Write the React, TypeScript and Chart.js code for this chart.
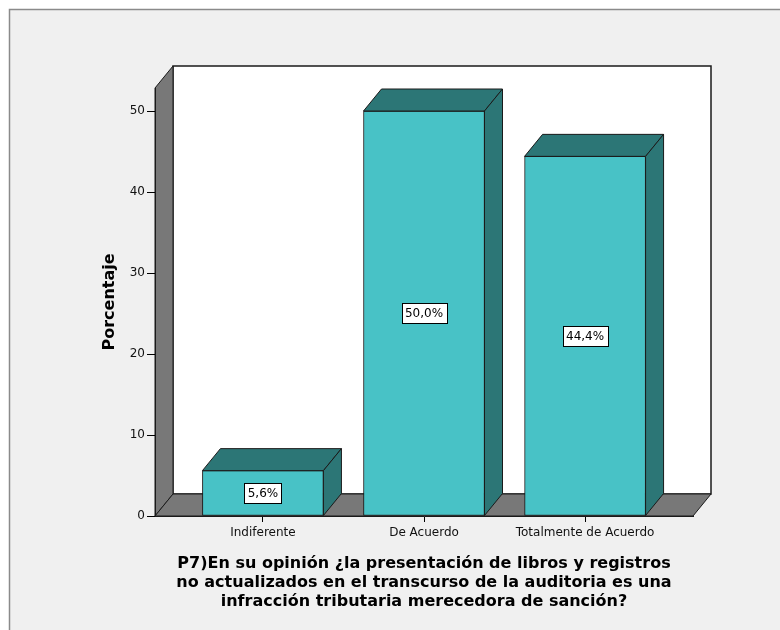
import React, { useEffect, useRef } from "react";
import { Chart, registerables } from "chart.js";

Chart.register(...registerables);

// Response categories and their share of answers (%)
const categories = ["Indiferente", "De Acuerdo", "Totalmente de Acuerdo"];
const percentages = [5.6, 50.0, 44.4];
const yTickValues = [0, 10, 20, 30, 40, 50];
const yAxisTitle = "Porcentaje";
const xAxisTitleLines = [
  "P7)En su opinión ¿la presentación de libros y registros",
  "no actualizados en el transcurso de la auditoria es una",
  "infracción tributaria merecedora de sanción?",
];

const FONT = "'DejaVu Sans', Verdana, sans-serif";
const DEPTH_X = 18;
const DEPTH_Y = 22;
const WALL = "#787878";
const BAR_FRONT = "#48c2c6";
const BAR_SHADE = "#2c7676";
const EDGE = "#1a1a1a";

type Pt = [number, number];

function polygon(ctx: CanvasRenderingContext2D, pts: Pt[], fill: string, stroke: string) {
  ctx.beginPath();
  ctx.moveTo(pts[0][0], pts[0][1]);
  for (let i = 1; i < pts.length; i++) ctx.lineTo(pts[i][0], pts[i][1]);
  ctx.closePath();
  ctx.fillStyle = fill;
  ctx.fill();
  ctx.strokeStyle = stroke;
  ctx.lineWidth = 1;
  ctx.stroke();
}

const formatPct = (v: number) => v.toFixed(1).replace(".", ",") + "%";

// Panel background, back wall, side wall and floor of the 3D box
const boxPlugin = {
  id: "box3d",
  beforeDraw(chart: any) {
    const { ctx, width, height } = chart;
    const { left, right, top, bottom } = chart.chartArea;
    ctx.save();
    ctx.fillStyle = "#ffffff";
    ctx.fillRect(0, 0, width, height);
    ctx.fillStyle = "#f0f0f0";
    ctx.fillRect(9, 9, width - 9, height - 9);
    ctx.strokeStyle = "#8a8a8a";
    ctx.lineWidth = 1.5;
    ctx.beginPath();
    ctx.moveTo(9.5, height);
    ctx.lineTo(9.5, 9.5);
    ctx.lineTo(width, 9.5);
    ctx.stroke();

    // back wall
    ctx.fillStyle = "#ffffff";
    ctx.fillRect(left + DEPTH_X, top - DEPTH_Y, right - left, bottom - top);
    ctx.strokeStyle = EDGE;
    ctx.lineWidth = 1.5;
    ctx.strokeRect(left + DEPTH_X, top - DEPTH_Y, right - left, bottom - top);

    // left wall
    polygon(
      ctx,
      [
        [left, bottom],
        [left, top],
        [left + DEPTH_X, top - DEPTH_Y],
        [left + DEPTH_X, bottom - DEPTH_Y],
      ],
      WALL,
      EDGE
    );
    // floor
    polygon(
      ctx,
      [
        [left, bottom],
        [right, bottom],
        [right + DEPTH_X, bottom - DEPTH_Y],
        [left + DEPTH_X, bottom - DEPTH_Y],
      ],
      WALL,
      EDGE
    );
    ctx.restore();
  },
  afterDatasetsDraw(chart: any) {
    const { ctx } = chart;
    const meta = chart.getDatasetMeta(0);
    ctx.save();
    meta.data.forEach((bar: any, i: number) => {
      const { x, y, base, width } = bar.getProps(["x", "y", "base", "width"], true);
      const l = x - width / 2;
      const r = x + width / 2;
      // top face
      polygon(
        ctx,
        [
          [l, y],
          [r, y],
          [r + DEPTH_X, y - DEPTH_Y],
          [l + DEPTH_X, y - DEPTH_Y],
        ],
        BAR_SHADE,
        EDGE
      );
      // side face
      polygon(
        ctx,
        [
          [r, y],
          [r + DEPTH_X, y - DEPTH_Y],
          [r + DEPTH_X, base - DEPTH_Y],
          [r, base],
        ],
        BAR_SHADE,
        EDGE
      );

      // value label
      const text = formatPct(percentages[i]);
      ctx.font = `12px ${FONT}`;
      const tw = ctx.measureText(text).width;
      const bw = Math.round(tw + 7);
      const bh = 20;
      const cy = (y + base) / 2;
      const bx = Math.round(x - bw / 2) + 0.5;
      const by = Math.round(cy - bh / 2) + 0.5;
      ctx.fillStyle = "#ffffff";
      ctx.fillRect(bx, by, bw, bh);
      ctx.strokeStyle = "#000000";
      ctx.lineWidth = 1;
      ctx.strokeRect(bx, by, bw, bh);
      ctx.fillStyle = "#000000";
      ctx.textAlign = "center";
      ctx.textBaseline = "middle";
      ctx.fillText(text, x, cy + 0.5);
    });
    ctx.restore();
  },
};

export default function App() {
  const canvasRef = useRef<HTMLCanvasElement | null>(null);

  useEffect(() => {
    if (!canvasRef.current) return;
    const chart = new Chart(canvasRef.current, {
      type: "bar",
      data: {
        datasets: [
          {
            data: percentages.map((v, i) => ({ x: i, y: v })),
            backgroundColor: BAR_FRONT,
            borderColor: EDGE,
            borderWidth: 1,
            borderSkipped: false,
            barThickness: 121,
          },
        ],
      },
      options: {
        responsive: false,
        animation: false,
        devicePixelRatio: 1,
        layout: { padding: { top: 88, right: 87, left: 0, bottom: 0 } },
        plugins: {
          legend: { display: false },
          tooltip: { enabled: false },
        },
        scales: {
          x: {
            type: "linear",
            min: -0.67,
            max: 2.67,
            offset: false,
            afterBuildTicks: (s: any) => {
              s.ticks = categories.map((_, i) => ({ value: i }));
            },
            afterFit: (s: any) => {
              s.height = 114;
            },
            grid: { offset: false, drawOnChartArea: false, drawTicks: true, tickLength: 6, tickColor: "#000" },
            border: { display: true, color: EDGE, width: 1 },
            ticks: {
              callback: (v: any) => categories[v as number] ?? "",
              padding: 4,
              autoSkip: false,
              maxRotation: 0,
              color: "#111",
              font: { family: FONT, size: 12 },
            },
            title: {
              display: true,
              text: xAxisTitleLines,
              color: "#000",
              font: { family: FONT, size: 16, weight: "bold", lineHeight: 1.2 },
              padding: { top: 0, bottom: 18.5 },
            },
          },
          y: {
            type: "linear",
            min: 0,
            max: 52.84,
            afterBuildTicks: (s: any) => {
              s.ticks = yTickValues.map((v) => ({ value: v }));
            },
            afterFit: (s: any) => {
              s.width = 155;
            },
            grid: { drawOnChartArea: false, drawTicks: true, tickLength: 8, tickColor: "#000" },
            border: { display: true, color: EDGE, width: 1 },
            ticks: {
              padding: 2,
              color: "#111",
              font: { family: FONT, size: 12 },
            },
            title: {
              display: true,
              text: yAxisTitle,
              color: "#000",
              font: { family: FONT, size: 16, weight: "bold", lineHeight: 1.2 },
              padding: { top: 100, bottom: 0 },
            },
          },
        },
      } as any,
      plugins: [boxPlugin],
    });
    return () => chart.destroy();
  }, []);

  return (
    <div style={{ position: "fixed", left: 0, top: 0, width: 780, height: 630 }}>
      <canvas ref={canvasRef} width={780} height={630} style={{ display: "block" }} />
    </div>
  );
}
